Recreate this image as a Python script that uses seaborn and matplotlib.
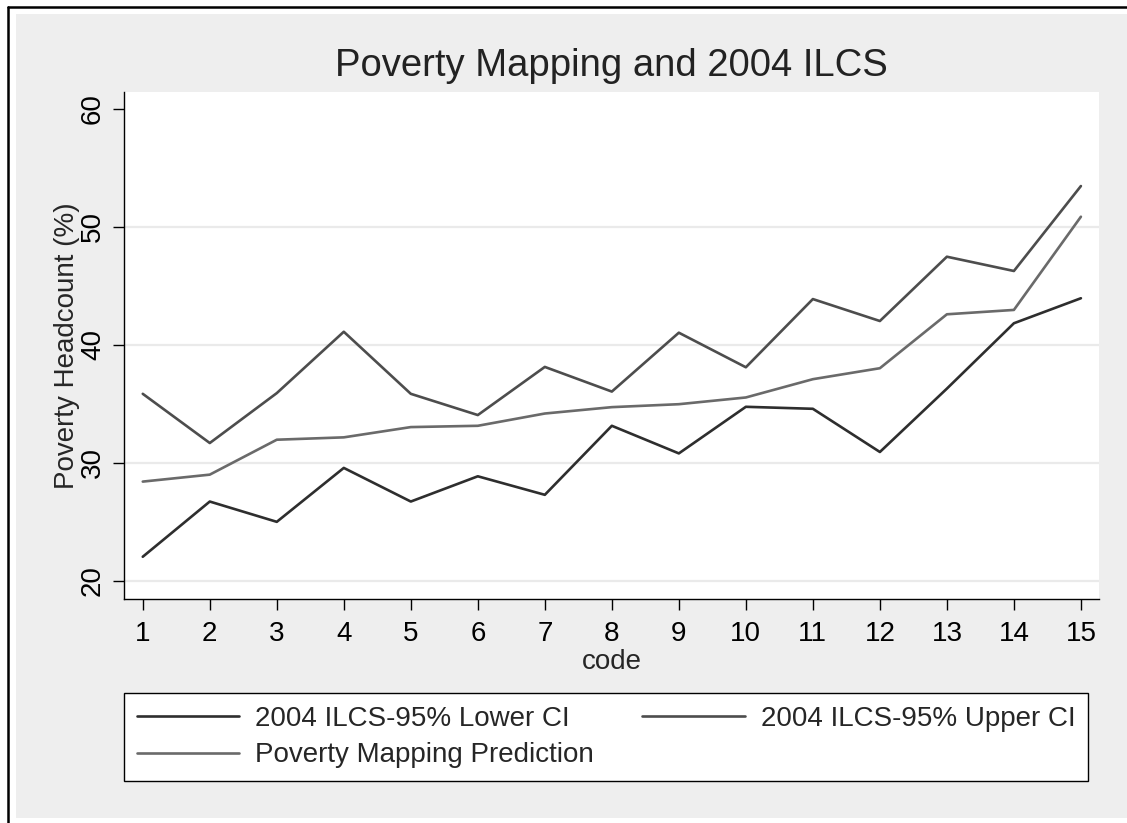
import matplotlib
matplotlib.use("Agg")
import matplotlib.pyplot as plt
import seaborn as sns
import pandas as pd
from matplotlib.patches import Rectangle
from matplotlib.lines import Line2D

# ---- data ----
codes = list(range(1, 16))
lower_ci = [22.05, 26.73, 25.01, 29.58, 26.73, 28.87, 27.3, 33.15, 30.81, 34.76, 34.59, 30.93, 36.3, 41.84, 43.96]
upper_ci = [35.86, 31.69, 35.92, 41.12, 35.86, 34.06, 38.14, 36.05, 41.04, 38.11, 43.89, 42.03, 47.48, 46.27, 53.47]
prediction = [28.42, 29.01, 31.97, 32.17, 33.04, 33.15, 34.19, 34.73, 34.98, 35.55, 37.10, 38.03, 42.60, 42.97, 50.87]
series_names = ["2004 ILCS-95% Lower CI", "2004 ILCS-95% Upper CI", "Poverty Mapping Prediction"]
y_ticks = [20, 30, 40, 50, 60]
title = "Poverty Mapping and 2004 ILCS"
x_label = "code"
y_label = "Poverty Headcount (%)"

df = pd.concat([
    pd.DataFrame({"code": codes, "value": lower_ci, "series": series_names[0]}),
    pd.DataFrame({"code": codes, "value": upper_ci, "series": series_names[1]}),
    pd.DataFrame({"code": codes, "value": prediction, "series": series_names[2]}),
])

sns.set_style("white")
plt.rcParams["font.family"] = ["Liberation Sans", "DejaVu Sans"]

W, H = 1127, 823
fig = plt.figure(figsize=(W / 100, H / 100), dpi=100)
fig.patch.set_facecolor("white")

# gray background region and black frame (left/top)
fig.patches.append(Rectangle((16 / W, 1 - 818 / H), 1.0, (818 - 14) / H,
                             transform=fig.transFigure, facecolor="#eeeeee",
                             edgecolor="none", zorder=-10))
fig.lines.append(Line2D([8 / W, 8 / W], [0, 1 - 7 / H], transform=fig.transFigure,
                        color="black", linewidth=1.8))
fig.lines.append(Line2D([8 / W, 1], [1 - 7 / H, 1 - 7 / H], transform=fig.transFigure,
                        color="black", linewidth=1.8))

ax_l, ax_r, ax_t, ax_b = 124, 1099, 92, 599
ax = fig.add_axes([ax_l / W, 1 - ax_b / H, (ax_r - ax_l) / W, (ax_b - ax_t) / H])
ax.set_facecolor("white")

palette = {series_names[0]: "#2e2e2e", series_names[1]: "#4d4d4d", series_names[2]: "#6a6a6a"}
sns.lineplot(data=df, x="code", y="value", hue="series", palette=palette,
             linewidth=1.9, ax=ax, legend=False)

ax.set_xlim(0.72, 15.27)
ax.set_ylim(18.47, 61.44)
ax.set_xticks(codes)
ax.set_yticks(y_ticks)
for yv in y_ticks[:-1]:
    ax.axhline(yv, color="#eaeaea", linewidth=1.6, zorder=0)

for side in ["top", "right"]:
    ax.spines[side].set_visible(False)
for side in ["left", "bottom"]:
    ax.spines[side].set_color("black")
    ax.spines[side].set_linewidth(1.0)

FS = 20
ax.tick_params(axis="both", direction="out", length=8, width=1.0, color="black",
               labelsize=FS, labelcolor="black", bottom=True, left=True)
ax.tick_params(axis="x", pad=8)
ax.tick_params(axis="y", pad=5)
for lbl in ax.get_yticklabels():
    lbl.set_rotation(90)
    lbl.set_va("center")

ax.set_xlabel(x_label, fontsize=FS, labelpad=1)
ax.set_ylabel(y_label, fontsize=FS, labelpad=0)

fig.text((ax_l + ax_r) / 2 / W, 1 - 76 / H, title, ha="center", va="baseline",
         fontsize=27.5, color="#222222")

# order so that column-major fill gives rows: [Lower, Upper], [Prediction]
order = [0, 2, 1]
handles = [Line2D([0], [0], color=palette[series_names[i]], linewidth=1.9) for i in order]
labels = [series_names[i] for i in order]
leg = fig.legend(handles, labels, loc="lower left",
                 bbox_to_anchor=(124 / W, 1 - 781 / H, (1088 - 124) / W, (781 - 689) / H),
                 mode="expand", ncol=2, fontsize=FS, frameon=True, fancybox=False,
                 handlelength=3.7, handletextpad=0.58, borderpad=0.45, labelspacing=0.38,
                 columnspacing=1.0, borderaxespad=0)
leg.get_frame().set_edgecolor("black")
leg.get_frame().set_linewidth(1.0)
leg.get_frame().set_facecolor("white")
leg.get_frame().set_alpha(1)

fig.savefig("out.png", dpi=100, facecolor=fig.get_facecolor())
